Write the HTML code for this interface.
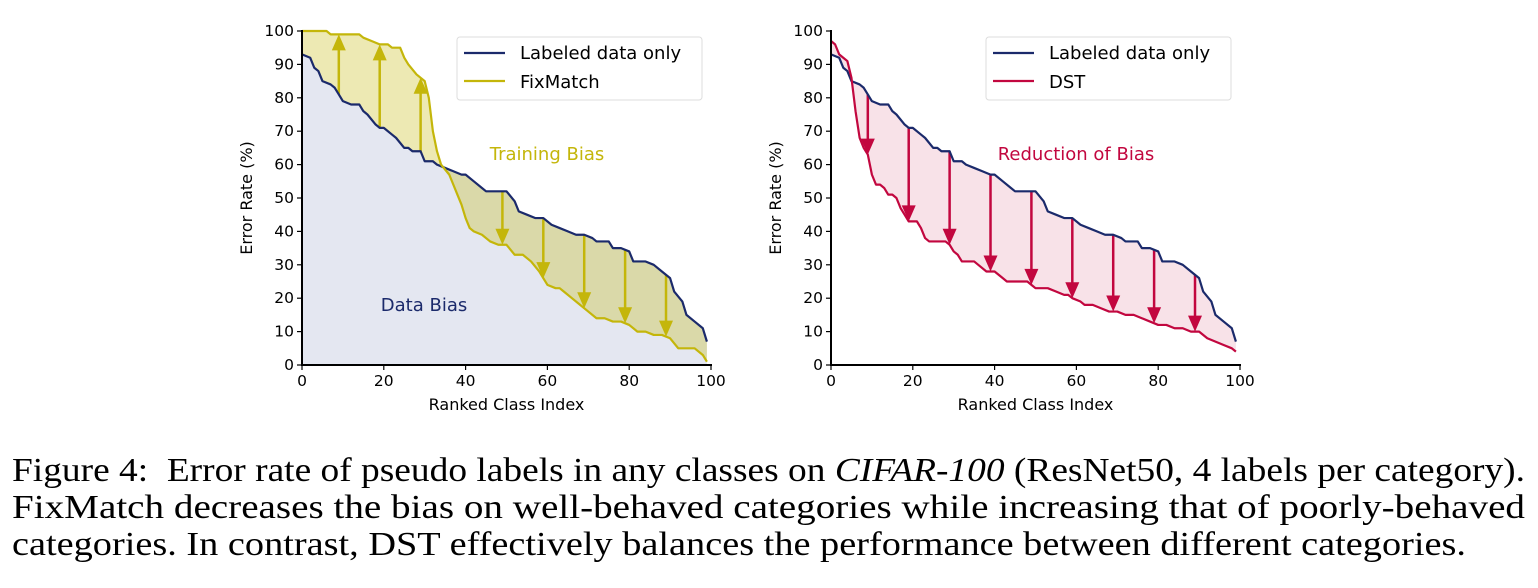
<!DOCTYPE html>
<html><head><meta charset="utf-8"><style>
html,body{margin:0;padding:0;background:#fff;width:1538px;height:588px;overflow:hidden;position:relative}
svg{display:block}
#fig{font-family:"DejaVu Sans","Liberation Sans",sans-serif}
.capline{position:absolute;left:12px;white-space:nowrap;font-family:"Liberation Serif","Times New Roman",Times,serif;font-size:34px;line-height:1;transform-origin:0 0;color:#000}
</style></head><body>
<svg id="fig" width="1538" height="588" xmlns="http://www.w3.org/2000/svg"></svg>
<div>
<div class="capline" id="c1" data-fit="1513" style="top:454px">Figure 4:&nbsp; Error rate of pseudo labels in any classes on <i>CIFAR-100</i> (ResNet50, 4 labels per category).</div>
<div class="capline" id="c2" data-fit="1513" style="top:491px">FixMatch decreases the bias on well-behaved categories while increasing that of poorly-behaved</div>
<div class="capline" id="c3" data-fit="1454" style="top:528px">categories. In contrast, DST effectively balances the performance between different categories.</div>
</div>
<script>
const labeledX=[0,2,3,4,5,7,8,9,10,12,14,15,16,18,19,20,22,23,25,26,27,29,30,32,33,35,37,39,40,42,44,45,50,52,53,55,57,59,61,63,65,67,69,71,72,75,76,78,80,81,84,86,88,90,91,93,94,96,98,99];
const labeledY=[93,92,89,88,85,84,83,81,79,78,78,76,75,72,71,71,69,68,65,65,64,64,61,61,60,59,58,57,57,55,53,52,52,49,46,45,44,44,42,41,40,39,39,38,37,37,35,35,34,31,31,30,28,26,22,19,15,13,11,7];
const fixX=[0,6,7,14,15,17,19,21,22,24,25,26,28,30,31,32,33,34,36,37,38,39,40,41,42,44,46,48,50,52,54,56,58,59,60,62,63,64,66,68,70,72,74,76,78,80,82,84,86,88,90,92,94,96,98,99];
const fixY=[100,100,99,99,98,97,96,96,95,95,92,90,87,85,80,70,64,60,57,54,51,48,44,41,40,39,37,36,36,33,33,31,28,26,24,23,23,22,20,18,16,14,14,13,13,12,10,10,9,9,8,5,5,5,3,1];
const dstX=[0,1,2,3,4,5,6,7,8,9,10,11,12,13,14,15,16,17,18,19,21,22,23,24,28,29,30,31,32,35,36,38,40,42,43,48,49,50,53,55,57,58,59,61,62,64,66,68,70,72,74,76,78,80,82,84,86,88,90,92,94,96,98,99];
const dstY=[97,96,93,92,91,86,76,68,65,63,57,54,54,53,51,51,50,47,45,43,43,41,38,37,37,36,34,33,31,31,30,28,28,26,25,25,24,23,23,22,21,21,20,19,18,18,17,16,16,15,15,14,13,12,12,11,11,10,10,8,7,6,5,4];
const xTicks=[0,20,40,60,80,100];
const yTicks=[0,10,20,30,40,50,60,70,80,90,100];
const arrowsLeft=[9,19,29,49,59,69,79,89];
const arrowsRight=[9,19,29,39,49,59,69,79,89];

const NS="http://www.w3.org/2000/svg";
const svg=document.getElementById('fig');
function el(tag,attrs,parent,text){const e=document.createElementNS(NS,tag);for(const k in attrs)e.setAttribute(k,attrs[k]);if(text!==undefined)e.textContent=text;(parent||svg).appendChild(e);return e;}
function interp(xs,ys,x){for(let i=0;i<xs.length-1;i++){if(x>=xs[i]&&x<=xs[i+1]){const t=(x-xs[i])/(xs[i+1]-xs[i]||1);return ys[i]+t*(ys[i+1]-ys[i]);}}return ys[ys.length-1];}

function panel(x0,x1,name,otherX,otherY,color,fillBetween,arrows,legendName,annot,annotPos){
  const y0=365,y1=31;
  const sx=v=>x0+(x1-x0)*v/100, sy=v=>y0+(y1-y0)*v/100;
  const g=el('g',{});
  
  
  const bp=labeledX.map((x,i)=>sx(x)+','+sy(labeledY[i]));
  const op=otherX.map((x,i)=>sx(x)+','+sy(otherY[i]));
  if(name==='left-chart'){
    const a=el('polygon',{points:sx(0)+','+sy(0)+' '+bp.join(' ')+' '+sx(99)+','+sy(0),fill:'#e4e7f1'},g);
    
  }
  const f=el('polygon',{points:bp.join(' ')+' '+op.slice().reverse().join(' '),fill:fillBetween},g);
  
  arrows.forEach(ax=>{
    const yb=interp(labeledX,labeledY,ax), yo=interp(otherX,otherY,ax);
    const X=sx(ax), Ys=sy(yb), Ye=sy(yo);
    const dir=Ye>Ys?1:-1;
    const ag=el('g',{},g);
    
    el('line',{x1:X,y1:Ys,x2:X,y2:Ye-dir*12,stroke:color,'stroke-width':2.5},ag);
    el('polygon',{points:`${X-7},${Ye-dir*16} ${X+7},${Ye-dir*16} ${X},${Ye}`,fill:color},ag);
  });
  const l1=el('polyline',{points:bp.join(' '),fill:'none',stroke:'#1b2a6b','stroke-width':2.2,'stroke-linejoin':'round'},g);
  
  const l2=el('polyline',{points:op.join(' '),fill:'none',stroke:color,'stroke-width':2.2,'stroke-linejoin':'round'},g);
  
  el('line',{x1:x0,y1:y0,x2:x0,y2:y1-1,stroke:'#000','stroke-width':2},g);
  el('line',{x1:x0-1,y1:y0,x2:x1+1,y2:y0,stroke:'#000','stroke-width':2},g);
  xTicks.forEach(t=>{el('line',{x1:sx(t),y1:y0,x2:sx(t),y2:y0+5,stroke:'#000','stroke-width':1.2},g);
    const tx=el('text',{x:sx(t),y:y0+21,'font-size':15.5,'text-anchor':'middle'},g,String(t));
    });
  yTicks.forEach(t=>{el('line',{x1:x0,y1:sy(t),x2:x0-5,y2:sy(t),stroke:'#000','stroke-width':1.2},g);
    const tx=el('text',{x:x0-8,y:sy(t)+5,'font-size':15.5,'text-anchor':'end'},g,String(t));
    });
  const xt=el('text',{x:(x0+x1)/2,y:410,'font-size':16,'text-anchor':'middle'},g,'Ranked Class Index');
  
  const yt=el('text',{x:0,y:0,'font-size':16,'text-anchor':'middle',transform:`translate(${x0-50},${(y0+y1)/2}) rotate(-90)`},g,'Error Rate (%)');
  
  const lg=el('g',{},g);
  
  const lx=x0+155;
  el('rect',{x:lx,y:37,width:245,height:63,rx:3,fill:'#fff',stroke:'#ddd','stroke-width':1},lg);
  el('line',{x1:lx+7,y1:53,x2:lx+48,y2:53,stroke:'#1b2a6b','stroke-width':2.2},lg);
  el('line',{x1:lx+7,y1:81,x2:lx+48,y2:81,stroke:color,'stroke-width':2.2},lg);
  const e1=el('text',{x:lx+63,y:59,'font-size':18},lg,'Labeled data only');
  
  const e2=el('text',{x:lx+63,y:88,'font-size':18},lg,legendName);
  
  annot.forEach((a,i)=>{const t=el('text',{x:annotPos[i][0],y:annotPos[i][1],'font-size':18,'text-anchor':'middle',fill:annotPos[i][2]},g,a);
    });
}
panel(302,711,'left-chart',fixX,fixY,'#c4b60a','rgba(200,188,20,0.32)',arrowsLeft,'FixMatch',['Training Bias','Data Bias'],[[547,160,'#c4b60a'],[424,311,'#1b2a6b']]);
panel(831,1240,'right-chart',dstX,dstY,'#c2073f','#f8e2e8',arrowsRight,'DST',['Reduction of Bias'],[[1076,160,'#c2073f']]);

document.querySelectorAll('.capline').forEach(d=>{
  const w=d.getBoundingClientRect().width, target=+d.getAttribute('data-fit');
  if(w>0) d.style.transform='scaleX('+(target/w)+')';
});
</script>
</body></html>
